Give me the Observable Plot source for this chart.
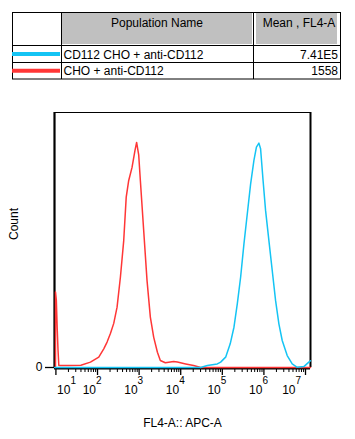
<!DOCTYPE html>
<html><head><meta charset="utf-8">
<script src="https://cdn.jsdelivr.net/npm/d3@7"></script>
<script src="https://cdn.jsdelivr.net/npm/@observablehq/plot@0.6"></script>
<style>
body{margin:0;background:#fff;font-family:"Liberation Sans",Arial,sans-serif;}
#wrap{position:relative;width:355px;height:439px;overflow:hidden;}
#wrap svg{position:absolute;left:0;top:0;}
</style></head><body><div id="wrap"></div>
<script>
// ---- data ----
const populations = ["CD112 CHO + anti-CD112", "CHO + anti-CD112"];
const means = ["7.41E5", "1558"];
const colors = ["#14c4f4", "#ff3636"];
const tableHeaders = ["Population Name", "Mean , FL4-A"];
const xLabel = "FL4-A:: APC-A";
const yLabel = "Count";
const decades = [1, 2, 3, 4, 5, 6, 7];
const yTicks = [0];

// CHO + anti-CD112 (red): log10(FL4-A) and normalized count
const redLogX = [0.99, 0.99, 1.01, 1.03, 1.05, 1.07, 1.3, 1.6, 1.83, 2.03, 2.15, 2.23, 2.31, 2.39, 2.47, 2.55, 2.63, 2.69, 2.75, 2.83, 2.90, 2.94, 2.99, 3.03, 3.11, 3.19, 3.27, 3.35, 3.44, 3.51, 3.63, 3.83, 3.92, 4.12, 4.31, 4.48, 5.5, 6.5, 7.12];
const redCount = [0, 33.5, 30, 17.9, 8, 0.9, 0.9, 1.0, 2.4, 4.6, 8.3, 11.3, 15.1, 19.6, 26.8, 40.1, 56.4, 75.7, 83.1, 88.9, 96.4, 100, 94.5, 83.1, 60.9, 38.7, 22.4, 13.5, 6.8, 3.1, 2.1, 2.7, 2.4, 1.6, 0.9, 0, 0, 0, 0];
// CD112 CHO + anti-CD112 (blue)
const blueLogX = [0.97, 4.48, 4.64, 4.88, 4.96, 5.08, 5.19, 5.28, 5.36, 5.44, 5.52, 5.60, 5.68, 5.76, 5.82, 5.88, 5.92, 5.98, 6.04, 6.12, 6.20, 6.28, 6.36, 6.44, 6.56, 6.68, 6.80, 6.96, 7.08, 7.12];
const blueCount = [0, 0, 0.9, 1.6, 2.4, 4.6, 10.5, 17.9, 28.3, 40.1, 54.9, 68.2, 81.5, 92, 97.9, 99.7, 97.2, 83.1, 69.8, 56.4, 43.1, 29.8, 19.4, 12, 5.3, 1.6, 0.1, 0.4, 2.4, 3];

// ---- build ----
const xDomain = [10 ** 0.966, 10 ** 7.12];
const majorTicks = decades.map(d => 10 ** d);
const minorTicks = [];
for (let d = 0; d <= 7; d++) for (let k = 2; k <= 9; k++) {
  const v = k * 10 ** d;
  if (v > xDomain[0] && v < xDomain[1]) minorTicks.push(v);
}
const series = [
  {name: populations[1], color: colors[1], xs: redLogX, ys: redCount},
  {name: populations[0], color: colors[0], xs: blueLogX, ys: blueCount}
];
const rows = series.flatMap(s => s.xs.map((l, i) => ({x: 10 ** l, y: s.ys[i], name: s.name})));
const firstTick = majorTicks.slice(0, 1);
const midTicks = majorTicks.slice(1, -1);
const lastTick = majorTicks.slice(-1);
const expOf = d => String(Math.round(Math.log10(d)));
const tickLabel = (data, dx) => [
  Plot.text(data, {x: d => d, text: () => "10", frameAnchor: "bottom", textAnchor: "end", dx, dy: 26, fontSize: 12}),
  Plot.text(data, {x: d => d, text: expOf, frameAnchor: "bottom", textAnchor: "start", dx, dy: 16.5, fontSize: 10})
];

const plot = Plot.plot({
  width: 355, height: 439,
  marginLeft: 54, marginRight: 45, marginTop: 112, marginBottom: 72,
  style: {fontFamily: "'Liberation Sans', Arial, sans-serif", fontSize: "12px", background: "transparent", color: "#000"},
  x: {type: "log", domain: xDomain},
  y: {domain: [0, 113.3]},
  color: {domain: [populations[1], populations[0]], range: [colors[1], colors[0]]},
  marks: [
    Plot.frame({stroke: "#000", strokeWidth: 1}),
    Plot.axisX(minorTicks, {tickSize: 5, fill: "none", strokeWidth: 1, label: null}),
    Plot.axisX(majorTicks, {tickSize: 8, fill: "none", strokeWidth: 1.3, label: null}),
    Plot.axisY(yTicks, {tickSize: 9, tickPadding: 3, fontSize: 12, label: null, strokeWidth: 1.3}),
    ...tickLabel(firstTick, 14.5),
    ...tickLabel(midTicks, -1.5),
    ...tickLabel(lastTick, -10),
    Plot.text([xLabel], {frameAnchor: "bottom", dy: 59, fontSize: 12}),
    Plot.text([yLabel], {frameAnchor: "left", rotate: -90, dx: -40, fontSize: 12}),
    Plot.ruleX([xDomain[0]], {stroke: "#000", strokeWidth: 2.2}),
    Plot.ruleX([xDomain[1]], {stroke: "#000", strokeWidth: 2}),
    Plot.ruleY([0], {stroke: "#000", strokeWidth: 2.2, dy: 1}),
    Plot.line(rows, {x: "x", y: "y", z: "name", stroke: "name", strokeWidth: 1.5})
  ]
});
document.getElementById("wrap").appendChild(plot);

// ---- legend table ----
const tbl = d3.select("#wrap").append("svg").attr("width", 355).attr("height", 90)
  .style("font-family", "'Liberation Sans', Arial, sans-serif").style("font-size", "12px");
tbl.append("rect").attr("x", 62).attr("y", 13).attr("width", 190).attr("height", 31).attr("fill", "#c0c0c0");
tbl.append("rect").attr("x", 256).attr("y", 13).attr("width", 81).attr("height", 31).attr("fill", "#c0c0c0");
tbl.append("rect").attr("x", 12.5).attr("y", 12.5).attr("width", 328).attr("height", 66.5).attr("fill", "none").attr("stroke", "#000");
[61.5, 253.5].forEach(x => tbl.append("line").attr("x1", x).attr("x2", x).attr("y1", 12.5).attr("y2", 79).attr("stroke", "#000"));
[45.5, 62.5].forEach(y => tbl.append("line").attr("x1", 12.5).attr("x2", 340.5).attr("y1", y).attr("y2", y).attr("stroke", "#000"));
tbl.append("text").attr("x", 157).attr("y", 27).attr("text-anchor", "middle").text(tableHeaders[0]);
tbl.append("text").attr("x", 299).attr("y", 27).attr("text-anchor", "middle").text(tableHeaders[1]);
const rowY = [54, 70.7];
populations.forEach((p, i) => {
  tbl.append("line").attr("x1", 12).attr("x2", 60).attr("y1", rowY[i]).attr("y2", rowY[i]).attr("stroke", colors[i]).attr("stroke-width", 4);
  tbl.append("text").attr("x", 63.5).attr("y", rowY[i] + 4.5).text(p);
  tbl.append("text").attr("x", 338).attr("y", rowY[i] + 4.5).attr("text-anchor", "end").text(means[i]);
});
</script></body></html>
